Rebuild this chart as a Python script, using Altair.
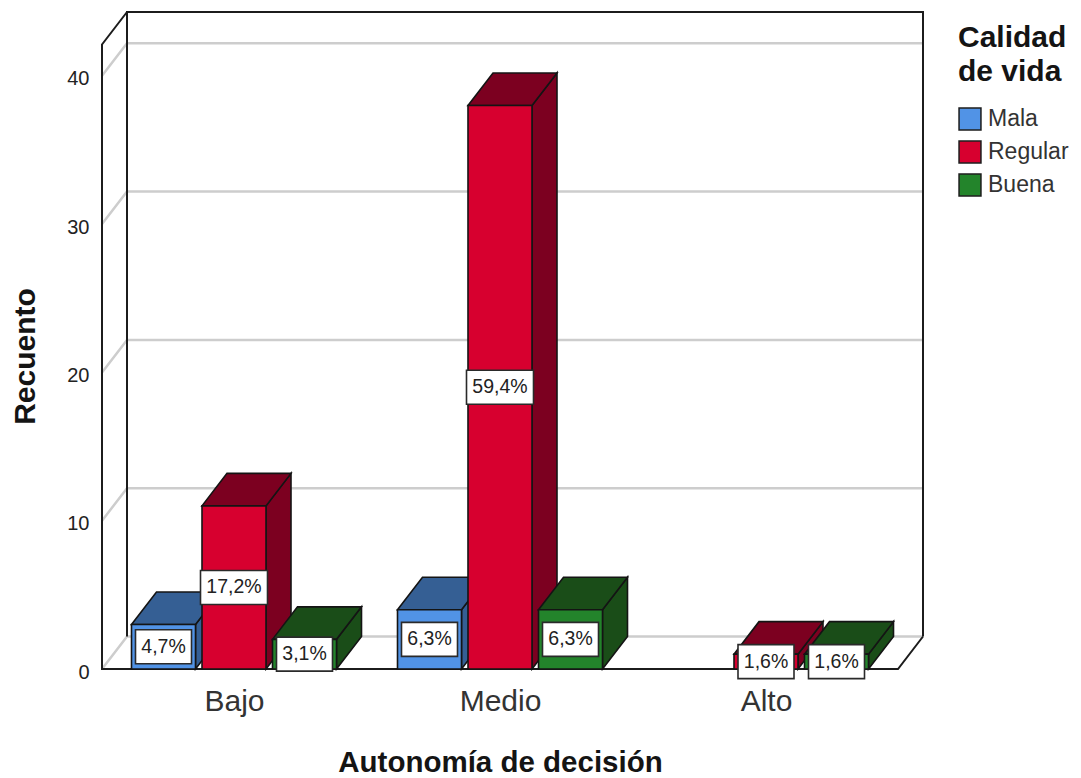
import altair as alt
import pandas as pd

categories = ["Bajo", "Medio", "Alto"]
series = ["Mala", "Regular", "Buena"]
mala = [3, 4, 0]
regular = [11, 38, 1]
buena = [2, 4, 1]
mala_pct = ["4,7%", "6,3%", ""]
regular_pct = ["17,2%", "59,4%", "1,6%"]
buena_pct = ["3,1%", "6,3%", "1,6%"]
y_ticks = [0, 10, 20, 30, 40]

front = ["#5193E6", "#D7002F", "#23842B"]
top_c = ["#355F94", "#7C0020", "#1A4D18"]
INK = "#141414"
FONT = "Liberation Sans"

# pixel calibration of the scales
PW, PH = 821, 657
PX_X, PX_Y = 266.0, 14.83
X0 = -132 / PX_X
XMAX = X0 + PW / PX_X
YMAX = PH / PX_Y
DX = 25 / PX_X
DY = 32.5 / PX_Y
STEP = 70.5 / PX_X
HALF = 32.0 / PX_X

x_enc = alt.X(
    "x:Q",
    scale=alt.Scale(domain=[X0, XMAX], nice=False, zero=False),
    axis=alt.Axis(
        values=[0, 1, 2],
        labelExpr="['" + "','".join(categories) + "'][datum.value]",
        domain=False, ticks=False, grid=False,
        labelFontSize=30, labelFont=FONT, labelColor="#333333", labelPadding=17,
        labelFlush=False, labelOverlap=False,
        title="Autonomía de decisión", titleFont=FONT, titleFontSize=29.5,
        titleFontWeight="bold", titleColor=INK, titleX=398, titleY=102,
        titleBaseline="alphabetic",
    ),
)
y_enc = alt.Y(
    "y:Q",
    stack=None,
    scale=alt.Scale(domain=[0, YMAX], nice=False, zero=False),
    axis=alt.Axis(
        values=y_ticks, domain=False, grid=False, ticks=False,
        labelFontSize=20, labelFont=FONT, labelOffset=3,
        labelColor="#222222", labelPadding=13,
        title="Recuento", titleFont=FONT, titleFontSize=30, titleFontWeight="bold",
        titleColor=INK, titleX=-77, titleY=344, titleBaseline="middle",
    ),
)

grid_rows = []
for v in y_ticks:
    grid_rows += [
        {"seg": v, "o": 0, "x": X0, "y": v},
        {"seg": v, "o": 1, "x": X0 + DX, "y": v + DY},
        {"seg": v, "o": 2, "x": XMAX, "y": v + DY},
    ]
grid = alt.Chart(pd.DataFrame(grid_rows)).mark_line(color="#CDCDCD", strokeWidth=2.5).encode(
    x=x_enc, y=y_enc, detail="seg:N", order="o:Q"
)

frame_paths = [
    [(X0 + DX, DY), (X0 + DX, YMAX), (XMAX, YMAX), (XMAX, DY)],
    [(X0 + DX, YMAX), (X0, YMAX - DY), (X0, 0), (XMAX - DX, 0), (XMAX, DY)],
]
frame_rows = []
for i, path in enumerate(frame_paths):
    for j, (px, py) in enumerate(path):
        frame_rows.append({"seg": i, "o": j, "x": px, "y": py})
frame = alt.Chart(pd.DataFrame(frame_rows)).mark_line(color="#1C1C1C", strokeWidth=2).encode(
    x=x_enc, y=y_enc, detail="seg:N", order="o:Q"
)

values_by_series = [mala, regular, buena]
pct_by_series = [mala_pct, regular_pct, buena_pct]
color_enc = alt.Color(
    "serie:N",
    scale=alt.Scale(domain=series, range=front),
    legend=alt.Legend(
        title=["Calidad", "de vida"], orient="none", legendX=856, legendY=11,
        titleFont=FONT, titleFontSize=30, titleFontWeight="bold", titleColor=INK,
        titleLineHeight=34, titleLimit=300, titlePadding=20,
        labelFont=FONT, labelFontSize=23, labelColor="#333333", labelOffset=6,
        labelLimit=200,
        symbolType="square", symbolSize=480, symbolStrokeColor="#1C1C1C",
        symbolStrokeWidth=1.5, symbolOpacity=1,
        rowPadding=5,
    ),
)

layers = [grid, frame]
for s, name in enumerate(series):
    fronts, sides, tops = [], [], []
    for c in range(len(categories)):
        v = values_by_series[s][c]
        if v == 0:
            continue
        cx = c + (s - 1) * STEP
        xl, xr = cx - HALF, cx + HALF
        fronts.append({"serie": name, "x": xl, "x2": xr, "y": 0, "y2": v})
        sides += [
            {"b": c, "x": xr, "y": 0, "y2": v},
            {"b": c, "x": xr + DX, "y": DY, "y2": v + DY},
        ]
        tops += [
            {"b": c, "x": xl, "y": v, "y2": v},
            {"b": c, "x": xl + DX, "y": v, "y2": v + DY},
            {"b": c, "x": xr, "y": v, "y2": v + DY},
            {"b": c, "x": xr + DX, "y": v + DY, "y2": v + DY},
        ]
    stroke = dict(stroke=INK, strokeWidth=1.6)
    layers.append(
        alt.Chart(pd.DataFrame(sides)).mark_area(color=top_c[s], orient="vertical", **stroke).encode(
            x=x_enc, y=y_enc, y2="y2:Q", detail="b:N"
        )
    )
    layers.append(
        alt.Chart(pd.DataFrame(tops)).mark_area(color=top_c[s], orient="vertical", **stroke).encode(
            x=x_enc, y=y_enc, y2="y2:Q", detail="b:N"
        )
    )
    layers.append(
        alt.Chart(pd.DataFrame(fronts)).mark_rect(**stroke).encode(
            x=x_enc, x2="x2:Q", y=y_enc, y2="y2:Q", color=color_enc
        )
    )

box_rows, text_rows = [], []
for s in range(len(series)):
    for c in range(len(categories)):
        v = values_by_series[s][c]
        if v == 0:
            continue
        txt = pct_by_series[s][c]
        cx = c + (s - 1) * STEP
        half_w = (11 * len(txt) + 12) / 2 / PX_X
        half_h = 17 / PX_Y
        mid = v / 2
        box_rows.append({"x": cx - half_w, "x2": cx + half_w, "y": mid - half_h, "y2": mid + half_h})
        text_rows.append({"x": cx, "y": mid, "txt": txt})
layers.append(
    alt.Chart(pd.DataFrame(box_rows)).mark_rect(fill="white", stroke="#2A2A2A", strokeWidth=1.6).encode(
        x=x_enc, x2="x2:Q", y=y_enc, y2="y2:Q"
    )
)
layers.append(
    alt.Chart(pd.DataFrame(text_rows)).mark_text(font=FONT, fontSize=19.5, color="#222222", baseline="middle", align="center").encode(
        x=x_enc, y=y_enc, text="txt:N"
    )
)

chart = (
    alt.layer(*layers)
    .properties(
        width=PW, height=PH, autosize=alt.AutoSizeParams(type="none"),
        padding={"left": 94, "top": 4, "right": 150, "bottom": 108},
        background="white",
    )
    .configure_view(stroke=None)
)
chart.save("out.html", embed_options={"renderer": "svg", "actions": False})
